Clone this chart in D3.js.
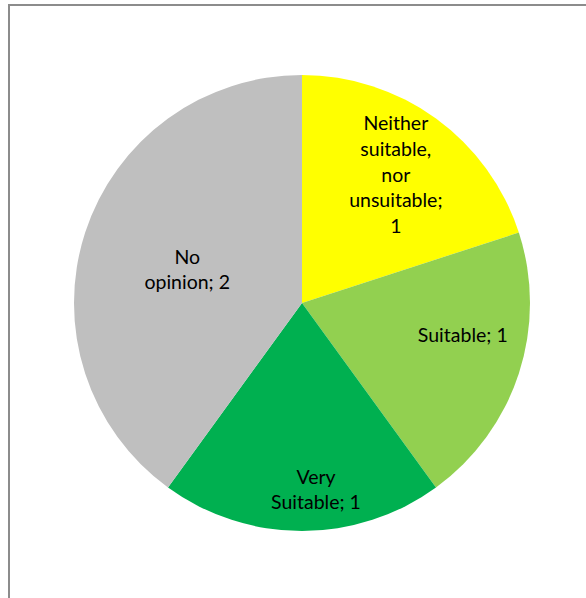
<!doctype html>
<html lang="en">
<head>
<meta charset="UTF-8">
<script src="https://d3js.org/d3.v7.min.js"></script>
<style>
  html, body { margin: 0; padding: 0; background: #fff; }
  svg { display: block; }
</style>
</head>
<body>
<div id="chart"></div>
<script>
// data
var categories = ["Neither suitable, nor unsuitable", "Suitable", "Very Suitable", "No opinion"];
var values = [1, 1, 1, 2];
// label lines as they wrap in the picture
var labelLines = [
    ["Neither", "suitable,", "nor", "unsuitable;", "1"],
    ["Suitable; 1"],
    ["Very", "Suitable; 1"],
    ["No", "opinion; 2"]
];

// styles
var colors = ["#FFFF00", "#92D050", "#00B050", "#BFBFBF"];
var labelNudge = [[0, 1], [9, -17], [14, 27], [37, 16]];

var width = 586, height = 598;
var cx = 302, cy = 303, radius = 228;
var lineHeight = 25.7;

var svg = d3.select("#chart")
    .append("svg")
    .attr("width", width)
    .attr("height", height);

// chart frame (cut off at right and bottom)
svg.append("rect")
    .attr("x", 9)
    .attr("y", 5)
    .attr("width", 620)
    .attr("height", 640)
    .attr("fill", "none")
    .attr("stroke", "#8c8c8c")
    .attr("stroke-width", 2);

var data = categories.map(function (c, i) {
    return {name: c, value: values[i], lines: labelLines[i], i: i};
});

var pie = d3.pie()
    .sort(null)
    .value(function (d) { return d.value; });

var arc = d3.arc().innerRadius(0).outerRadius(radius);
var labelArc = d3.arc().innerRadius(radius * 0.7).outerRadius(radius * 0.7);

var g = svg.append("g")
    .attr("transform", "translate(" + cx + "," + cy + ")");

var arcs = pie(data);

g.selectAll("path")
    .data(arcs)
    .enter()
    .append("path")
    .attr("d", arc)
    .attr("fill", function (d) { return colors[d.data.i]; });

var labels = g.selectAll("text")
    .data(arcs)
    .enter()
    .append("text")
    .attr("text-anchor", "middle")
    .attr("font-family", "Lato, 'Open Sans', sans-serif")
    .attr("font-size", 19.5)
    .attr("fill", "#000")
    .attr("transform", function (d) {
        var c = labelArc.centroid(d);
        var n = labelNudge[d.data.i];
        return "translate(" + (c[0] + n[0]) + "," + (c[1] + n[1]) + ")";
    });

labels.each(function (d) {
    var t = d3.select(this);
    var k = d.data.lines.length;
    d.data.lines.forEach(function (line, j) {
        t.append("tspan")
            .attr("x", 0)
            .attr("y", (j - (k - 1) / 2) * lineHeight)
            .attr("dy", "0.35em")
            .text(line);
    });
});
</script>
</body>
</html>
